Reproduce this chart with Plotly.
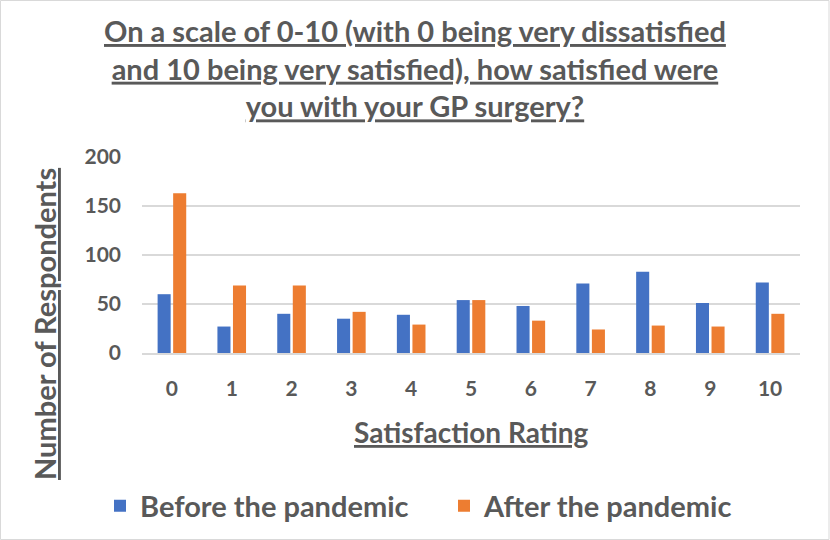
import plotly.graph_objects as go

categories = ["0", "1", "2", "3", "4", "5", "6", "7", "8", "9", "10"]
before = [60, 27, 40, 35, 39, 54, 48, 71, 83, 51, 72]
after = [163, 69, 69, 42, 29, 54, 33, 24, 28, 27, 40]
y_ticks = [0, 50, 100, 150, 200]

FONT = "Lato, Open Sans, sans-serif"
GRAY = "#595959"

W, H = 830, 540
L, R, T, B = 142, 30, 157, 187

fig = go.Figure()
fig.add_trace(go.Bar(x=categories, y=before, name="Before the pandemic",
                     marker=dict(color="#4472C4", line=dict(width=0))))
fig.add_trace(go.Bar(x=categories, y=after, name="After the pandemic",
                     marker=dict(color="#ED7D31", line=dict(width=0))))

pw = W - L - R
ph = H - T - B
def px(x):
    return (x - L) / pw
def py(y):
    return (H - B - y) / ph

fig.update_layout(
    width=W, height=H, autosize=False,
    margin=dict(l=L, r=R, t=T, b=B, autoexpand=False),
    paper_bgcolor="white", plot_bgcolor="white",
    barmode="group", bargap=0.48, bargroupgap=0.16,
    font=dict(family=FONT, color=GRAY),
    showlegend=True,
    legend=dict(orientation="h", x=px(100), xanchor="left",
                y=py(506), yanchor="middle", entrywidth=299, entrywidthmode="pixels",
                font=dict(size=29, family=FONT, color=GRAY, weight="bold"),
                itemsizing="constant", tracegroupgap=0),
    xaxis=dict(type="category", showgrid=False, showline=True, linecolor="#D9D9D9",
               linewidth=1.5, ticks="", tickfont=dict(size=21, family=FONT, color=GRAY, weight="bold"),
               ticklabelstandoff=16, automargin=False),
    yaxis=dict(range=[0, 200], tickvals=y_ticks, showgrid=True, gridcolor="#D9D9D9",
               gridwidth=1.5, zeroline=False, showline=False, ticks="",
               tickfont=dict(size=21, family=FONT, color=GRAY, weight="bold"), ticklabelstandoff=20,
               automargin=False),
)

annotations = [
    dict(text="<u>On a scale of 0-10 (with 0 being very dissatisfied</u><br>"
              "<u>and 10 being very satisfied), how satisfied were</u><br>"
              "<u>you with your GP surgery?</u>",
         x=px(415), y=py(68), xref="paper", yref="paper", showarrow=False,
         xanchor="center", yanchor="middle", align="center",
         font=dict(size=29, family=FONT, color=GRAY, weight="bold")),
    dict(text="<u>Satisfaction Rating</u>", x=px(471), y=py(432), xref="paper", yref="paper",
         showarrow=False, xanchor="center", yanchor="middle",
         font=dict(size=28, family=FONT, color=GRAY, weight="bold")),
    dict(text="<u>Number of Respondents</u>", x=px(44), y=py(324), xref="paper", yref="paper",
         showarrow=False, xanchor="center", yanchor="middle", textangle=-90,
         font=dict(size=29, family=FONT, color=GRAY, weight="bold")),
]
fig.update_layout(annotations=annotations)

fig.add_shape(type="rect", xref="paper", yref="paper",
              x0=px(0.5), x1=px(829), y0=py(539.5), y1=py(0.5),
              line=dict(color="#D9D9D9", width=1), layer="below")

fig.write_html("out.html", config={"displayModeBar": False},
               post_script="document.body.style.margin='0';")
